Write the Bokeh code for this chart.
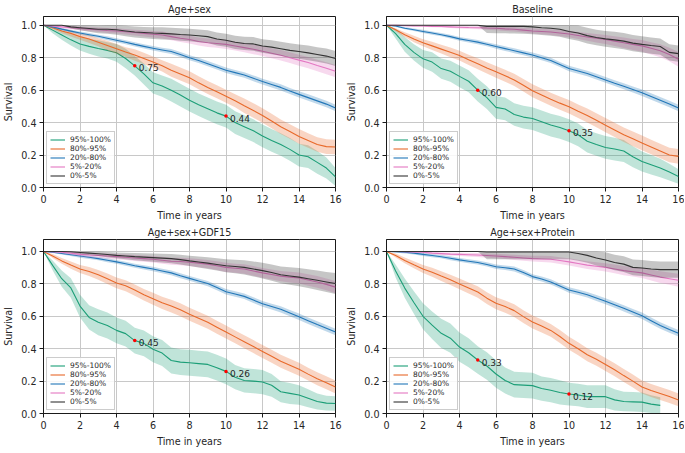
import math
from bokeh.plotting import figure
from bokeh.layouts import column, row
from bokeh.models import Range1d, Legend, LegendItem, FixedTicker, PrintfTickFormatter
from bokeh.embed import file_html
from bokeh.resources import INLINE
from bokeh.core.properties import value

NAN = float("nan")

# sampling grid in years (every half year)
TIME = [i * 0.5 for i in range(33)]

GROUPS = ["95%-100%", "80%-95%", "20%-80%", "5%-20%", "0%-5%"]
COLORS = ["#1b9e77", "#e8692a", "#2277b8", "#e377c2", "#333333"]
X_TICKS = [0, 2, 4, 6, 8, 10, 12, 14, 16]
Y_TICKS = [0.0, 0.2, 0.4, 0.6, 0.8, 1.0]
TITLES = ["Age+sex", "Baseline", "Age+sex+GDF15", "Age+sex+Protein"]
ANN_T = [5, 10]

# ---------------- Age+sex ----------------
agesex_95_100 = [1.0, 0.97, 0.94, 0.91, 0.885, 0.87, 0.857, 0.845, 0.83, 0.795, 0.75, 0.70, 0.645, 0.625, 0.60, 0.57, 0.538,
                 0.51, 0.485, 0.46, 0.44, 0.40, 0.375, 0.35, 0.318, 0.29, 0.265, 0.235, 0.20, 0.19, 0.155, 0.12, 0.065]
agesex_80_95 = [1.0, 0.985, 0.965, 0.95, 0.93, 0.915, 0.895, 0.875, 0.855, 0.835, 0.817, 0.795, 0.773, 0.75, 0.723, 0.70, 0.677,
                0.645, 0.617, 0.59, 0.563, 0.535, 0.504, 0.475, 0.444, 0.41, 0.374, 0.345, 0.315, 0.29, 0.265, 0.252, 0.25]
agesex_20_80 = [1.0, 0.99, 0.976, 0.964, 0.952, 0.942, 0.932, 0.92, 0.908, 0.895, 0.882, 0.87, 0.858, 0.848, 0.838, 0.82, 0.80,
                0.783, 0.763, 0.743, 0.723, 0.708, 0.693, 0.673, 0.653, 0.635, 0.617, 0.595, 0.574, 0.554, 0.534, 0.514, 0.49]
agesex_5_20 = [1.0, 0.995, 0.99, 0.985, 0.98, 0.976, 0.972, 0.968, 0.965, 0.96, 0.955, 0.95, 0.945, 0.94, 0.93, 0.92, 0.912,
               0.90, 0.892, 0.888, 0.882, 0.872, 0.862, 0.852, 0.84, 0.828, 0.815, 0.80, 0.785, 0.77, 0.752, 0.735, 0.717]
agesex_0_5 = [1.0, 1.0, 1.0, 0.99, 0.985, 0.98, 0.975, 0.975, 0.972, 0.965, 0.958, 0.955, 0.952, 0.95, 0.947, 0.943, 0.94,
              0.935, 0.93, 0.915, 0.908, 0.895, 0.888, 0.885, 0.872, 0.865, 0.855, 0.845, 0.838, 0.83, 0.82, 0.81, 0.795]
agesex_95_100_ci = [0, 0.02, 0.03, 0.035, 0.04, 0.045, 0.05, 0.05, 0.055, 0.06, 0.06, 0.065, 0.065, 0.065, 0.07, 0.07, 0.07,
                    0.07, 0.07, 0.07, 0.07, 0.07, 0.07, 0.07, 0.07, 0.07, 0.07, 0.07, 0.07, 0.07, 0.07, 0.065, 0.055]
agesex_80_95_ci = [0, 0.01, 0.015, 0.02, 0.02, 0.025, 0.025, 0.03, 0.03, 0.03, 0.035, 0.035, 0.035, 0.035, 0.04, 0.04, 0.04,
                   0.04, 0.04, 0.04, 0.04, 0.04, 0.045, 0.045, 0.045, 0.045, 0.045, 0.045, 0.045, 0.045, 0.045, 0.045, 0.045]
agesex_20_80_ci = [0, 0.005, 0.007, 0.008, 0.01, 0.01, 0.01, 0.012, 0.012, 0.012, 0.013, 0.013, 0.014, 0.014, 0.015, 0.015, 0.015,
                   0.016, 0.016, 0.016, 0.017, 0.017, 0.017, 0.018, 0.018, 0.018, 0.019, 0.019, 0.02, 0.02, 0.02, 0.02, 0.02]
agesex_5_20_ci = [0, 0.005, 0.008, 0.01, 0.012, 0.013, 0.014, 0.015, 0.016, 0.017, 0.018, 0.019, 0.02, 0.021, 0.022, 0.023, 0.024,
                  0.025, 0.026, 0.027, 0.028, 0.028, 0.029, 0.03, 0.03, 0.031, 0.032, 0.033, 0.034, 0.035, 0.036, 0.037, 0.038]
agesex_0_5_ci = [0, 0, 0, 0.01, 0.015, 0.02, 0.024, 0.027, 0.03, 0.032, 0.034, 0.035, 0.036, 0.037, 0.037, 0.038, 0.038,
                 0.039, 0.039, 0.04, 0.04, 0.041, 0.041, 0.042, 0.042, 0.043, 0.043, 0.044, 0.044, 0.045, 0.045, 0.046, 0.046]
agesex_ann = [0.75, 0.44]

# ---------------- Baseline ----------------
baseline_95_100 = [1.0, 0.948, 0.882, 0.833, 0.793, 0.773, 0.733, 0.717, 0.685, 0.655, 0.60, 0.554, 0.494, 0.484, 0.45, 0.434, 0.425,
                   0.405, 0.385, 0.37, 0.35, 0.325, 0.285, 0.265, 0.247, 0.237, 0.225, 0.19, 0.16, 0.14, 0.12, 0.095, 0.068]
baseline_80_95 = [1.0, 0.972, 0.942, 0.916, 0.892, 0.873, 0.853, 0.833, 0.813, 0.787, 0.763, 0.737, 0.713, 0.689, 0.663, 0.63, 0.596,
                  0.57, 0.544, 0.52, 0.498, 0.47, 0.444, 0.415, 0.384, 0.355, 0.325, 0.30, 0.275, 0.25, 0.225, 0.20, 0.192]
baseline_20_80 = [1.0, 0.995, 0.982, 0.972, 0.962, 0.952, 0.942, 0.93, 0.916, 0.906, 0.896, 0.883, 0.869, 0.856, 0.843, 0.83, 0.817,
                  0.80, 0.783, 0.758, 0.733, 0.718, 0.703, 0.683, 0.663, 0.643, 0.624, 0.604, 0.584, 0.561, 0.538, 0.514, 0.49]
baseline_5_20 = [1.0, 1.0, 0.998, 0.996, 0.995, 0.993, 0.992, 0.99, 0.988, 0.986, 0.985, 0.983, 0.982, 0.978, 0.975, 0.97, 0.965,
                 0.962, 0.958, 0.952, 0.946, 0.937, 0.928, 0.92, 0.912, 0.902, 0.892, 0.882, 0.873, 0.858, 0.843, 0.82, 0.79]
baseline_0_5 = [1.0, 1.0, 1.0, 1.0, 1.0, 1.0, 1.0, 1.0, 1.0, 1.0, 1.0, 0.993, 0.993, 0.993, 0.993, 0.993, 0.99,
                0.985, 0.982, 0.975, 0.962, 0.952, 0.936, 0.925, 0.916, 0.91, 0.902, 0.89, 0.882, 0.875, 0.869, 0.833, 0.825]
baseline_95_100_ci = [0, 0.03, 0.045, 0.05, 0.055, 0.06, 0.062, 0.065, 0.067, 0.068, 0.07, 0.07, 0.07, 0.07, 0.07, 0.07, 0.07,
                      0.07, 0.07, 0.07, 0.07, 0.07, 0.07, 0.07, 0.07, 0.07, 0.068, 0.065, 0.062, 0.06, 0.057, 0.052, 0.045]
baseline_80_95_ci = [0, 0.01, 0.015, 0.02, 0.022, 0.025, 0.027, 0.03, 0.03, 0.032, 0.034, 0.035, 0.036, 0.037, 0.038, 0.039, 0.04,
                     0.04, 0.04, 0.041, 0.042, 0.042, 0.043, 0.043, 0.044, 0.044, 0.045, 0.045, 0.045, 0.045, 0.045, 0.045, 0.045]
baseline_20_80_ci = [0, 0.005, 0.007, 0.008, 0.01, 0.01, 0.01, 0.012, 0.012, 0.012, 0.013, 0.013, 0.014, 0.014, 0.015, 0.015, 0.015,
                     0.016, 0.016, 0.016, 0.017, 0.017, 0.017, 0.018, 0.018, 0.018, 0.019, 0.019, 0.02, 0.02, 0.02, 0.02, 0.02]
baseline_5_20_ci = [0, 0, 0.002, 0.003, 0.004, 0.005, 0.006, 0.007, 0.008, 0.009, 0.01, 0.011, 0.012, 0.013, 0.014, 0.015, 0.016,
                    0.017, 0.018, 0.019, 0.02, 0.022, 0.024, 0.026, 0.028, 0.03, 0.032, 0.034, 0.036, 0.038, 0.04, 0.042, 0.045]
baseline_0_5_ci = [0, 0, 0, 0, 0, 0, 0, 0, 0, 0, 0, 0.04, 0.042, 0.043, 0.044, 0.045, 0.045,
                   0.045, 0.046, 0.046, 0.047, 0.047, 0.048, 0.048, 0.049, 0.05, 0.05, 0.05, 0.05, 0.05, 0.05, 0.05, 0.05]
baseline_ann = [0.60, 0.35]

# ---------------- Age+sex+GDF15 ----------------
gdf15_95_100 = [1.0, 0.914, 0.832, 0.775, 0.663, 0.593, 0.563, 0.543, 0.513, 0.493, 0.45, 0.433, 0.397, 0.373, 0.327, 0.317, 0.313,
                0.308, 0.303, 0.283, 0.26, 0.224, 0.204, 0.20, 0.194, 0.174, 0.134, 0.124, 0.114, 0.094, 0.074, 0.064, 0.062]
gdf15_80_95 = [1.0, 0.972, 0.942, 0.916, 0.892, 0.876, 0.856, 0.832, 0.806, 0.788, 0.762, 0.733, 0.709, 0.683, 0.663, 0.64, 0.613,
               0.588, 0.563, 0.533, 0.503, 0.473, 0.443, 0.413, 0.383, 0.353, 0.323, 0.298, 0.273, 0.243, 0.214, 0.19, 0.164]
gdf15_20_80 = [1.0, 0.995, 0.988, 0.98, 0.972, 0.964, 0.956, 0.946, 0.936, 0.924, 0.912, 0.902, 0.892, 0.88, 0.868, 0.85, 0.834,
               0.818, 0.802, 0.777, 0.752, 0.738, 0.723, 0.70, 0.677, 0.66, 0.643, 0.62, 0.597, 0.573, 0.549, 0.526, 0.503]
gdf15_5_20 = [1.0, 0.998, 0.995, 0.99, 0.982, 0.978, 0.975, 0.972, 0.968, 0.964, 0.96, 0.956, 0.952, 0.946, 0.94, 0.938, 0.934,
              0.928, 0.922, 0.912, 0.902, 0.897, 0.892, 0.88, 0.868, 0.858, 0.848, 0.842, 0.836, 0.824, 0.812, 0.797, 0.78]
gdf15_0_5 = [1.0, 1.0, 1.0, 0.998, 0.994, 0.99, 0.986, 0.981, 0.976, 0.972, 0.968, 0.965, 0.962, 0.959, 0.956, 0.95, 0.942,
             0.935, 0.928, 0.92, 0.912, 0.907, 0.902, 0.892, 0.882, 0.87, 0.856, 0.849, 0.842, 0.832, 0.822, 0.812, 0.802]
gdf15_95_100_ci = [0, 0.03, 0.05, 0.06, 0.07, 0.075, 0.08, 0.08, 0.08, 0.08, 0.08, 0.08, 0.08, 0.08, 0.08, 0.08, 0.08,
                   0.08, 0.08, 0.08, 0.08, 0.075, 0.075, 0.075, 0.075, 0.07, 0.065, 0.065, 0.06, 0.055, 0.05, 0.045, 0.045]
gdf15_80_95_ci = [0, 0.012, 0.018, 0.022, 0.025, 0.028, 0.03, 0.032, 0.033, 0.034, 0.035, 0.036, 0.037, 0.038, 0.039, 0.04, 0.04,
                  0.04, 0.04, 0.04, 0.04, 0.04, 0.04, 0.04, 0.04, 0.04, 0.04, 0.04, 0.04, 0.04, 0.04, 0.04, 0.04]
gdf15_20_80_ci = [0, 0.005, 0.007, 0.008, 0.01, 0.01, 0.01, 0.012, 0.012, 0.012, 0.013, 0.013, 0.014, 0.014, 0.015, 0.015, 0.015,
                  0.016, 0.016, 0.016, 0.017, 0.017, 0.017, 0.018, 0.018, 0.018, 0.019, 0.019, 0.02, 0.02, 0.02, 0.02, 0.02]
gdf15_5_20_ci = [0, 0.005, 0.008, 0.01, 0.012, 0.013, 0.014, 0.015, 0.016, 0.017, 0.018, 0.019, 0.02, 0.021, 0.022, 0.023, 0.024,
                 0.025, 0.026, 0.027, 0.028, 0.028, 0.029, 0.03, 0.03, 0.031, 0.032, 0.033, 0.034, 0.035, 0.036, 0.037, 0.038]
gdf15_0_5_ci = [0, 0, 0, 0.005, 0.01, 0.012, 0.014, 0.016, 0.018, 0.02, 0.022, 0.024, 0.025, 0.027, 0.028, 0.03, 0.032,
                0.034, 0.036, 0.038, 0.04, 0.042, 0.044, 0.046, 0.048, 0.05, 0.052, 0.054, 0.056, 0.058, 0.06, 0.062, 0.065]
gdf15_ann = [0.45, 0.26]

# ---------------- Age+sex+Protein ----------------
protein_95_100 = [1.0, 0.88, 0.774, 0.685, 0.60, 0.545, 0.495, 0.465, 0.41, 0.375, 0.33, 0.293, 0.244, 0.204, 0.178, 0.175, 0.172,
                  0.154, 0.144, 0.13, 0.12, 0.114, 0.104, 0.104, 0.104, 0.084, 0.074, 0.072, 0.07, 0.058, 0.05, NAN, NAN]
protein_80_95 = [1.0, 0.975, 0.945, 0.918, 0.892, 0.872, 0.848, 0.825, 0.80, 0.775, 0.75, 0.712, 0.68, 0.66, 0.635, 0.598, 0.565,
                 0.54, 0.513, 0.475, 0.433, 0.40, 0.363, 0.335, 0.303, 0.27, 0.234, 0.20, 0.164, 0.142, 0.124, 0.105, 0.084]
protein_20_80 = [1.0, 0.998, 0.995, 0.99, 0.982, 0.975, 0.968, 0.958, 0.948, 0.94, 0.932, 0.92, 0.906, 0.90, 0.892, 0.87, 0.845,
                 0.83, 0.812, 0.787, 0.762, 0.748, 0.733, 0.713, 0.693, 0.671, 0.649, 0.626, 0.603, 0.573, 0.543, 0.518, 0.495]
protein_5_20 = [1.0, 1.0, 0.999, 0.997, 0.995, 0.99, 0.987, 0.984, 0.982, 0.98, 0.978, 0.975, 0.972, 0.968, 0.964, 0.96, 0.956,
                0.954, 0.952, 0.944, 0.936, 0.926, 0.916, 0.909, 0.902, 0.892, 0.882, 0.875, 0.868, 0.855, 0.842, 0.832, 0.822]
protein_0_5 = [1.0, 1.0, 1.0, 1.0, 1.0, 1.0, 1.0, 1.0, 1.0, 1.0, 1.0, 0.997, 0.997, 0.997, 0.997, 0.997, 0.997,
               0.997, 0.997, 0.997, 0.997, 0.988, 0.976, 0.96, 0.948, 0.932, 0.922, 0.902, 0.898, 0.892, 0.888, 0.888, 0.888]
protein_95_100_ci = [0, 0.04, 0.06, 0.07, 0.08, 0.085, 0.09, 0.09, 0.09, 0.09, 0.085, 0.085, 0.085, 0.08, 0.08, 0.08, 0.08,
                     0.075, 0.075, 0.075, 0.07, 0.07, 0.07, 0.07, 0.07, 0.065, 0.06, 0.06, 0.06, 0.055, 0.05, NAN, NAN]
protein_80_95_ci = [0, 0.012, 0.018, 0.022, 0.025, 0.028, 0.03, 0.032, 0.033, 0.034, 0.035, 0.036, 0.037, 0.038, 0.039, 0.04, 0.04,
                    0.04, 0.04, 0.04, 0.04, 0.04, 0.04, 0.04, 0.04, 0.04, 0.04, 0.04, 0.04, 0.04, 0.04, 0.04, 0.04]
protein_20_80_ci = [0, 0.005, 0.007, 0.008, 0.01, 0.01, 0.01, 0.012, 0.012, 0.012, 0.013, 0.013, 0.014, 0.014, 0.015, 0.015, 0.015,
                    0.016, 0.016, 0.016, 0.017, 0.017, 0.017, 0.018, 0.018, 0.018, 0.019, 0.019, 0.02, 0.02, 0.02, 0.02, 0.02]
protein_5_20_ci = [0, 0, 0.003, 0.005, 0.006, 0.007, 0.008, 0.009, 0.01, 0.011, 0.012, 0.013, 0.014, 0.015, 0.016, 0.017, 0.018,
                   0.019, 0.02, 0.021, 0.022, 0.023, 0.024, 0.025, 0.026, 0.027, 0.028, 0.03, 0.032, 0.034, 0.036, 0.038, 0.04]
protein_0_5_ci = [0, 0, 0, 0, 0, 0, 0, 0, 0, 0, 0, 0.045, 0.045, 0.045, 0.045, 0.045, 0.045,
                  0.045, 0.045, 0.045, 0.045, 0.045, 0.045, 0.046, 0.047, 0.048, 0.048, 0.049, 0.05, 0.05, 0.05, 0.05, 0.05]
protein_ann = [0.33, 0.12]

PANELS = [
    ([agesex_95_100, agesex_80_95, agesex_20_80, agesex_5_20, agesex_0_5],
     [agesex_95_100_ci, agesex_80_95_ci, agesex_20_80_ci, agesex_5_20_ci, agesex_0_5_ci], agesex_ann),
    ([baseline_95_100, baseline_80_95, baseline_20_80, baseline_5_20, baseline_0_5],
     [baseline_95_100_ci, baseline_80_95_ci, baseline_20_80_ci, baseline_5_20_ci, baseline_0_5_ci], baseline_ann),
    ([gdf15_95_100, gdf15_80_95, gdf15_20_80, gdf15_5_20, gdf15_0_5],
     [gdf15_95_100_ci, gdf15_80_95_ci, gdf15_20_80_ci, gdf15_5_20_ci, gdf15_0_5_ci], gdf15_ann),
    ([protein_95_100, protein_80_95, protein_20_80, protein_5_20, protein_0_5],
     [protein_95_100_ci, protein_80_95_ci, protein_20_80_ci, protein_5_20_ci, protein_0_5_ci], protein_ann),
]

FONT = "DejaVu Sans"
FONT_VALUE = value(FONT)
TEXT = "#262626"


def make_panel(idx, ytop, frame_h, left, right):
    series, cis, ann = PANELS[idx]
    p = figure(frame_width=292, frame_height=frame_h, x_range=Range1d(0, 16), y_range=Range1d(0, ytop),
               output_backend="svg", toolbar_location=None, title=TITLES[idx],
               min_border_left=left, min_border_right=right, min_border_top=2, min_border_bottom=2)
    p.title.align = "center"
    p.title.text_font = FONT
    p.title.text_font_size = "9.6px"
    p.title.text_font_style = "normal"
    p.title.text_color = TEXT
    p.title.standoff = 3
    p.outline_line_color = "#1a1a1a"
    p.outline_line_alpha = 1
    p.outline_line_width = 1
    for ax in (p.xaxis[0], p.yaxis[0]):
        ax.major_label_text_font = FONT
        ax.major_label_text_font_size = "9.6px"
        ax.major_label_text_color = TEXT
        ax.axis_label_text_font = FONT
        ax.axis_label_text_font_size = "9.6px"
        ax.axis_label_text_font_style = "normal"
        ax.axis_label_text_color = TEXT
        ax.axis_line_color = "#1a1a1a"
        ax.major_tick_line_color = "#1a1a1a"
        ax.major_tick_out = 4
        ax.major_tick_in = 0
        ax.minor_tick_line_color = None
        ax.major_label_standoff = 3
        ax.axis_label_standoff = 4
    p.xaxis.ticker = FixedTicker(ticks=X_TICKS)
    p.yaxis.ticker = FixedTicker(ticks=Y_TICKS)
    p.yaxis.formatter = PrintfTickFormatter(format="%.1f")
    p.xaxis.axis_label = "Time in years"
    p.yaxis.axis_label = "Survival"
    p.xgrid.grid_line_color = "#c8c8c8"
    p.ygrid.grid_line_color = "#c8c8c8"
    p.xgrid.grid_line_width = 1
    p.ygrid.grid_line_width = 1

    items = []
    for s, w, color, label in zip(series, cis, COLORS, GROUPS):
        xs, ys, lo, hi = [], [], [], []
        for t, v, d in zip(TIME, s, w):
            if math.isnan(v):
                continue
            xs.append(t)
            ys.append(v)
            lo.append(max(0.0, v - d))
            hi.append(min(1.0, v + d))
        p.varea(x=xs, y1=lo, y2=hi, fill_color=color, fill_alpha=0.28)
        r = p.line(xs, ys, line_color=color, line_width=1.1)
        items.append(LegendItem(label=label, renderers=[r]))

    p.scatter(x=ANN_T, y=ann, size=3.5, color="red", line_color=None)
    p.text(x=ANN_T, y=ann, text=["%.2f" % v for v in ann], x_offset=4, y_offset=2,
           text_font_size="9px", text_color=TEXT, text_baseline="alphabetic", text_font=FONT_VALUE)

    legend = Legend(items=items, location="bottom_left", margin=3, padding=3, spacing=0,
                    label_text_font=FONT, label_text_font_size="7.5px", label_text_color=TEXT,
                    glyph_width=15, glyph_height=9, label_height=9, label_standoff=5,
                    border_line_color="#cccccc", border_line_alpha=1,
                    background_fill_color="white", background_fill_alpha=0.85)
    p.add_layout(legend)
    return p


p1 = make_panel(0, 1.054, 171, 36, 8)
p2 = make_panel(1, 1.054, 171, 38, 6)
p3 = make_panel(2, 1.074, 174, 36, 8)
p4 = make_panel(3, 1.074, 174, 38, 6)

layout = column(row(p1, p2), row(p3, p4))
open("out.html", "w").write(file_html(layout, INLINE))
